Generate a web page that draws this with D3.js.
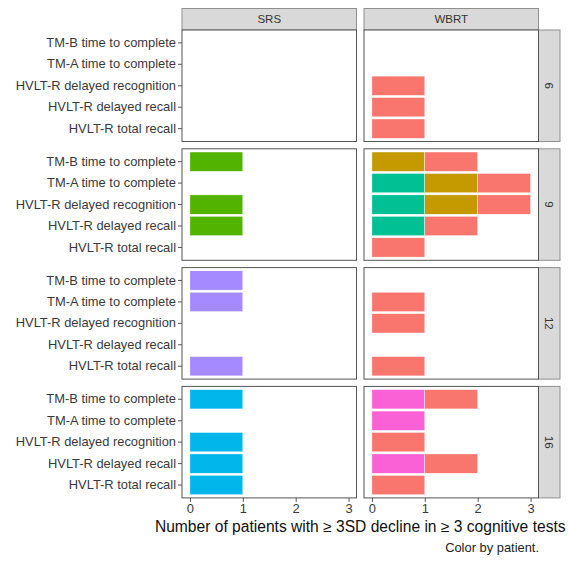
<!DOCTYPE html>
<html>
<head>
<meta charset="utf-8">
<script src="https://cdn.jsdelivr.net/npm/d3@7"></script>
<style>
  html, body { margin: 0; padding: 0; background: #fff; }
  svg { display: block; font-family: "Liberation Sans", Arial, sans-serif; }
  .tick-label { fill: #3a3a3a; font-size: 12.9px; }
  .strip-text { fill: #333; font-size: 11.5px; }
  .axis-title { fill: #111; font-size: 15.6px; }
  .caption { fill: #222; font-size: 12.9px; }
</style>
</head>
<body>
<svg id="chart" width="569" height="561"></svg>
<script>
// bottom-to-top order of the y axis
const tests = [
  'HVLT-R total recall',
  'HVLT-R delayed recall',
  'HVLT-R delayed recognition',
  'TM-A time to complete',
  'TM-B time to complete'
];
const arms = ['SRS', 'WBRT'];
const weeks = ['6', '9', '12', '16'];
const patients = ['P1', 'P2', 'P3', 'P4', 'P5', 'P6', 'P7'];
const xTicks = [0, 1, 2, 3];

// one row per patient showing the decline: [week, arm, test, patient]
const declines = [
  ['6', 'WBRT', 'HVLT-R delayed recognition', 'P1'],
  ['6', 'WBRT', 'HVLT-R delayed recall', 'P1'],
  ['6', 'WBRT', 'HVLT-R total recall', 'P1'],

  ['9', 'SRS', 'TM-B time to complete', 'P3'],
  ['9', 'SRS', 'HVLT-R delayed recognition', 'P3'],
  ['9', 'SRS', 'HVLT-R delayed recall', 'P3'],
  ['9', 'WBRT', 'TM-B time to complete', 'P2'],
  ['9', 'WBRT', 'TM-B time to complete', 'P1'],
  ['9', 'WBRT', 'TM-A time to complete', 'P4'],
  ['9', 'WBRT', 'TM-A time to complete', 'P2'],
  ['9', 'WBRT', 'TM-A time to complete', 'P1'],
  ['9', 'WBRT', 'HVLT-R delayed recognition', 'P4'],
  ['9', 'WBRT', 'HVLT-R delayed recognition', 'P2'],
  ['9', 'WBRT', 'HVLT-R delayed recognition', 'P1'],
  ['9', 'WBRT', 'HVLT-R delayed recall', 'P4'],
  ['9', 'WBRT', 'HVLT-R delayed recall', 'P1'],
  ['9', 'WBRT', 'HVLT-R total recall', 'P1'],

  ['12', 'SRS', 'TM-B time to complete', 'P6'],
  ['12', 'SRS', 'TM-A time to complete', 'P6'],
  ['12', 'SRS', 'HVLT-R total recall', 'P6'],
  ['12', 'WBRT', 'TM-A time to complete', 'P1'],
  ['12', 'WBRT', 'HVLT-R delayed recognition', 'P1'],
  ['12', 'WBRT', 'HVLT-R total recall', 'P1'],

  ['16', 'SRS', 'TM-B time to complete', 'P5'],
  ['16', 'SRS', 'HVLT-R delayed recognition', 'P5'],
  ['16', 'SRS', 'HVLT-R delayed recall', 'P5'],
  ['16', 'SRS', 'HVLT-R total recall', 'P5'],
  ['16', 'WBRT', 'TM-B time to complete', 'P7'],
  ['16', 'WBRT', 'TM-B time to complete', 'P1'],
  ['16', 'WBRT', 'TM-A time to complete', 'P7'],
  ['16', 'WBRT', 'HVLT-R delayed recognition', 'P1'],
  ['16', 'WBRT', 'HVLT-R delayed recall', 'P7'],
  ['16', 'WBRT', 'HVLT-R delayed recall', 'P1'],
  ['16', 'WBRT', 'HVLT-R total recall', 'P1']
];

(function () {
  'use strict';

  const PANEL_X0 = 182;
  const PANEL_W = 174.5;
  const PANEL_GAP_X = 7.5;
  const PANEL_Y0 = 30;
  const PANEL_H = 111.5;
  const PANEL_GAP_Y = 7.3;
  const STRIP = 21.5;

  const svg = d3.select('#chart');

  // ggplot default hue palette for 7 levels
  const color = d3.scaleOrdinal()
    .domain(patients)
    .range(['#F8766D', '#C49A00', '#53B400', '#00C094', '#00B6EB', '#A58AFF', '#FB61D7']);

  const x = d3.scaleLinear().domain([-0.15, 3.15]).range([0, PANEL_W]);
  const y = d3.scaleBand().domain(tests.slice().reverse())
    .range([0, PANEL_H]).paddingInner(0.1).paddingOuter(0.15);

  const colX = d => PANEL_X0 + arms.indexOf(d) * (PANEL_W + PANEL_GAP_X);
  const rowY = d => PANEL_Y0 + weeks.indexOf(d) * (PANEL_H + PANEL_GAP_Y);

  // stack: later patients sit nearer to zero, like position_stack
  const bars = [];
  const byPanel = d3.group(declines, d => d[0], d => d[1], d => d[2]);
  for (const [week, armMap] of byPanel) {
    for (const [arm, testMap] of armMap) {
      for (const [test, rows] of testMap) {
        const sorted = rows.slice().sort((a, b) => patients.indexOf(b[3]) - patients.indexOf(a[3]));
        let acc = 0;
        for (const r of sorted) {
          bars.push({ week, arm, test, patient: r[3], x0: acc, x1: acc + 1 });
          acc += 1;
        }
      }
    }
  }

  // column strips
  for (const arm of arms) {
    const g = svg.append('g').attr('transform', `translate(${colX(arm)},${PANEL_Y0 - STRIP})`);
    g.append('rect')
      .attr('width', PANEL_W).attr('height', STRIP)
      .attr('fill', '#d9d9d9').attr('stroke', '#8f8f8f').attr('stroke-width', 1);
    g.append('text')
      .attr('class', 'strip-text')
      .attr('x', PANEL_W / 2).attr('y', STRIP / 2)
      .attr('text-anchor', 'middle').attr('dominant-baseline', 'central')
      .text(arm);
  }

  // row strips
  const stripX = colX(arms[arms.length - 1]) + PANEL_W;
  for (const week of weeks) {
    const g = svg.append('g').attr('transform', `translate(${stripX},${rowY(week)})`);
    g.append('rect')
      .attr('width', STRIP).attr('height', PANEL_H)
      .attr('fill', '#d9d9d9').attr('stroke', '#8f8f8f').attr('stroke-width', 1);
    g.append('text')
      .attr('class', 'strip-text')
      .attr('transform', `translate(${STRIP / 2},${PANEL_H / 2}) rotate(90)`)
      .attr('text-anchor', 'middle').attr('dominant-baseline', 'central')
      .text(week);
  }

  for (const week of weeks) {
    for (const arm of arms) {
      const g = svg.append('g').attr('transform', `translate(${colX(arm)},${rowY(week)})`);
      g.append('rect')
        .attr('width', PANEL_W).attr('height', PANEL_H)
        .attr('fill', '#fff');

      g.selectAll('rect.bar')
        .data(bars.filter(b => b.week === week && b.arm === arm))
        .join('rect')
        .attr('class', 'bar')
        .attr('x', d => x(d.x0))
        .attr('width', d => x(d.x1) - x(d.x0))
        .attr('y', d => y(d.test))
        .attr('height', y.bandwidth())
        .attr('fill', d => color(d.patient))
        .attr('stroke', '#fff').attr('stroke-width', 0.4);

      g.append('rect')
        .attr('width', PANEL_W).attr('height', PANEL_H)
        .attr('fill', 'none').attr('stroke', '#555').attr('stroke-width', 1);

      if (arm === arms[0]) {
        const ax = g.append('g').call(d3.axisLeft(y).tickSize(4).tickPadding(2));
        ax.attr('font-size', null).attr('font-family', null);
        ax.select('.domain').remove();
        ax.selectAll('line').attr('stroke', '#555');
        ax.selectAll('text').attr('class', 'tick-label').attr('fill', null);
      }
      if (week === weeks[weeks.length - 1]) {
        const ax = g.append('g').attr('transform', `translate(0,${PANEL_H})`)
          .call(d3.axisBottom(x).tickValues(xTicks).tickFormat(d3.format('d')).tickSize(4).tickPadding(2));
        ax.attr('font-size', null).attr('font-family', null);
        ax.select('.domain').remove();
        ax.selectAll('line').attr('stroke', '#555');
        ax.selectAll('text').attr('class', 'tick-label').attr('fill', null);
      }
    }
  }

  const plotMid = (colX(arms[0]) + colX(arms[1]) + PANEL_W) / 2;
  svg.append('text')
    .attr('class', 'axis-title')
    .attr('x', plotMid).attr('y', 531.5)
    .attr('text-anchor', 'middle')
    .text('Number of patients with \u2265 3SD decline in \u2265 3 cognitive tests');

  svg.append('text')
    .attr('class', 'caption')
    .attr('x', 539).attr('y', 551.5)
    .attr('text-anchor', 'end')
    .text('Color by patient.');
})();
</script>
</body>
</html>
